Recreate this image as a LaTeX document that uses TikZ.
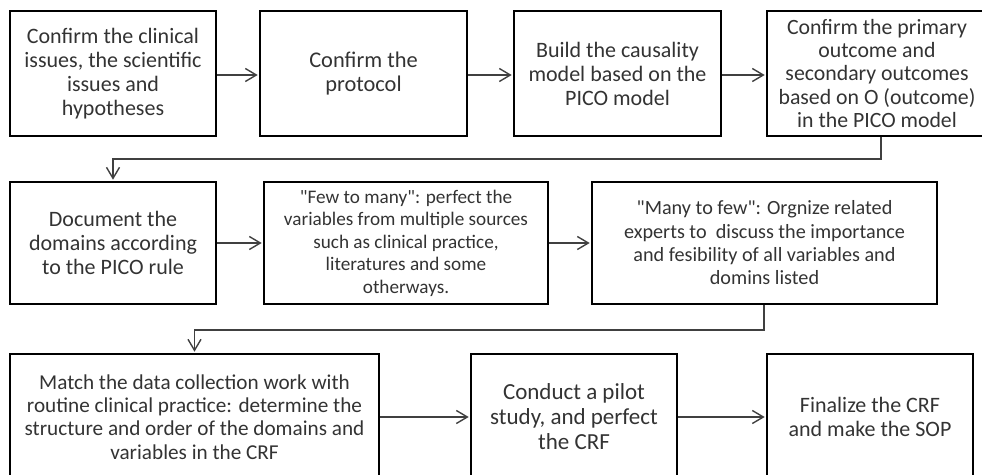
\documentclass[tikz,border=0pt]{standalone}
\usepackage{fontspec}
\setmainfont{Carlito}[Ligatures=TeXOff]
\usetikzlibrary{arrows.meta}
\begin{document}
\begin{tikzpicture}[x=1pt,y=-1pt,
  stepbox/.style={draw=black,line width=2.6pt,align=center,inner sep=0pt,
    text=black!80,font=\fontsize{22}{24}\selectfont,anchor=center},
  conn/.style={draw=black!75,line width=1.4pt,
    -{Straight Barb[length=11pt,width=13pt,line width=1.4pt]},shorten >=1pt}]
\useasboundingbox (0,0) rectangle (982,474);
\clip (0,0) rectangle (982,474);
% row 1
\node[stepbox,minimum width=206,minimum height=125] (b1) at (113,73.5)
  {Confirm the clinical\\issues, the scientific\\issues and\\hypotheses};
\node[stepbox,minimum width=207,minimum height=125,font=\fontsize{22.4}{24}\selectfont] (b2) at (363.5,73.5)
  {Confirm the\\protocol};
\node[stepbox,minimum width=207,minimum height=125] (b3) at (617.5,73.5)
  {Build the causality\\model based on the\\PICO model};
\node[stepbox,minimum width=220,minimum height=125,font=\fontsize{21.8}{23.3}\selectfont] (b4) at (877,73.5)
  {Confirm the primary\\outcome and\\secondary outcomes\\based on O (outcome)\\in the PICO model};
% row 2
\node[stepbox,minimum width=206,minimum height=122] (b5) at (113,243)
  {Document the\\domains according\\to the PICO rule};
\node[stepbox,minimum width=284,minimum height=122,font=\fontsize{19.2}{22.5}\selectfont] (b6) at (406,243)
  {"Few to many": perfect the\\variables from multiple sources\\such as clinical practice,\\literatures and some\\otherways.};
\node[stepbox,minimum width=345,minimum height=122,font=\fontsize{20.2}{23.3}\selectfont] (b7) at (764.5,243)
  {"Many to few": Orgnize related\\experts to\ \ discuss the importance\\and fesibility of all variables and\\domins listed};
% row 3
\node[stepbox,minimum width=369,minimum height=126,font=\fontsize{21.2}{23.3}\selectfont] (b8) at (194.5,417)
  {Match the data collection work with\\routine clinical practice: determine the\\structure and order of the domains and\\variables in the CRF};
\node[stepbox,minimum width=206,minimum height=126,font=\fontsize{23}{25}\selectfont] (b9) at (574,417)
  {Conduct a pilot\\study, and perfect\\the CRF};
\node[stepbox,minimum width=206,minimum height=126] (b10) at (870,417)
  {Finalize the CRF\\and make the SOP};
% connectors
\draw[conn] (b1.east |- 0,75) -- (b2.west |- 0,75);
\draw[conn] (b2.east |- 0,75) -- (b3.west |- 0,75);
\draw[conn] (b3.east |- 0,75) -- (b4.west |- 0,75);
\coordinate (k1) at (881,159);
\draw[conn] (b4.south -| k1) -- (k1) -| (b5.north);
\draw[conn] (b5.east) -- (b6.west);
\draw[conn] (b6.east) -- (b7.west);
\coordinate (k2) at (764,330);
\draw[conn] (b7.south -| k2) -- (k2) -| (b8.north);
\draw[conn] (b8.east) -- (b9.west);
\draw[conn] (b9.east) -- (b10.west);
\end{tikzpicture}
\end{document}
